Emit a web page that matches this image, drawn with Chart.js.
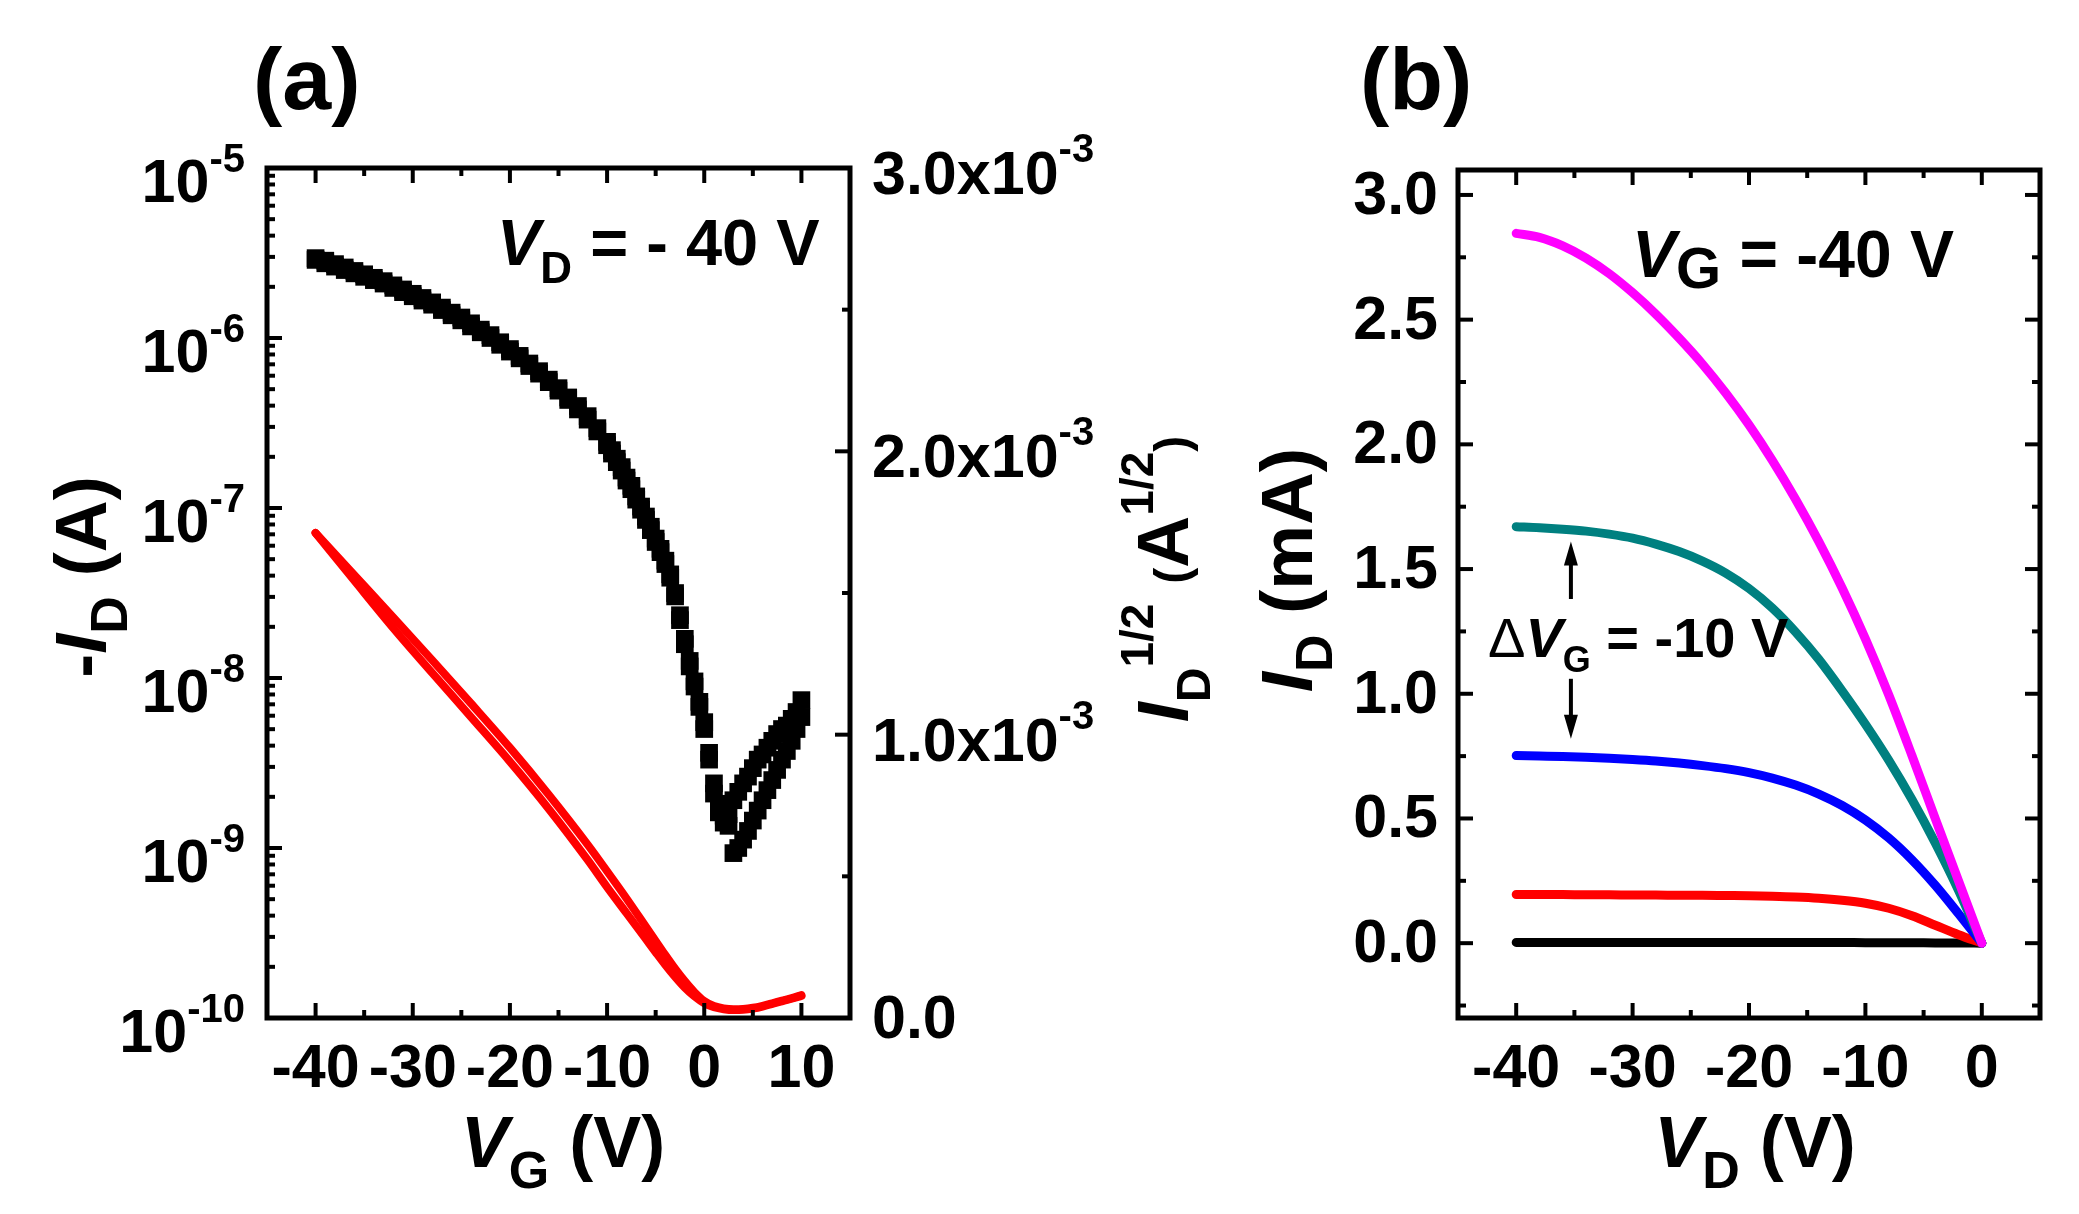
<!DOCTYPE html>
<html>
<head>
<meta charset="utf-8">
<title>Transfer and output curves</title>
<script src="https://cdn.jsdelivr.net/npm/chart.js@4.4.0/dist/chart.umd.min.js"></script>
<style>
  body { margin: 0; background: #fff; }
  canvas { position: absolute; left: 0; top: 0; width: 2079px; height: 1214px; }
</style>
</head>
<body>
<canvas id="chartA" width="2079" height="1214"></canvas>
<canvas id="chartB" width="2079" height="1214"></canvas>
<script>
// ---- (a) transfer curve at V_D = -40 V ----
const vgA = [-40,-39,-38,-37,-36,-35,-34,-33,-32,-31,-30,-29,-28,-27,-26,-25,-24,-23,-22,-21,
  -20,-19,-18,-17,-16,-15,-14,-13,-12,-11,
  -10,-9.5,-9,-8.5,-8,-7.5,-7,-6.5,-6,-5.5,-5,-4.5,-4,-3.5,-3,-2.5,-2,-1.5,-1,-0.5,
  0,0.5,1,1.5,2,2.5,3,3.5,4,4.5,5,5.5,6,6.5,7,7.5,8,8.5,9,9.5,10];

// -I_D (A), sweep towards +10 V
const idUp = [2.88e-6,2.75e-6,2.63e-6,2.51e-6,2.40e-6,2.29e-6,2.19e-6,2.09e-6,1.97e-6,1.86e-6,
  1.76e-6,1.66e-6,1.57e-6,1.46e-6,1.36e-6,1.27e-6,1.17e-6,1.08e-6,1.00e-6,9.12e-7,
  8.32e-7,7.59e-7,6.84e-7,6.17e-7,5.50e-7,4.90e-7,4.32e-7,3.80e-7,3.31e-7,2.82e-7,
  2.34e-7,2.09e-7,1.86e-7,1.66e-7,1.45e-7,1.29e-7,1.12e-7,9.77e-8,8.51e-8,7.41e-8,
  6.31e-8,5.50e-8,4.68e-8,3.89e-8,3.02e-8,2.19e-8,1.58e-8,1.17e-8,8.91e-9,6.76e-9,
  5.01e-9,3.31e-9,2.09e-9,1.62e-9,1.41e-9,1.58e-9,1.91e-9,2.14e-9,2.40e-9,2.63e-9,
  2.95e-9,3.31e-9,3.55e-9,3.89e-9,4.27e-9,4.68e-9,5.01e-9,5.25e-9,5.75e-9,6.31e-9,
  7.41e-9];

// -I_D (A), sweep back towards -40 V (listed in the same V order)
const idDown = [2.95e-6,2.85e-6,2.72e-6,2.60e-6,2.48e-6,2.37e-6,2.26e-6,2.16e-6,2.04e-6,1.93e-6,
  1.82e-6,1.72e-6,1.62e-6,1.51e-6,1.41e-6,1.32e-6,1.22e-6,1.12e-6,1.04e-6,9.44e-7,
  8.61e-7,7.85e-7,7.08e-7,6.38e-7,5.69e-7,5.07e-7,4.47e-7,3.98e-7,3.47e-7,2.95e-7,
  2.45e-7,2.19e-7,1.95e-7,1.74e-7,1.51e-7,1.35e-7,1.17e-7,1.02e-7,8.91e-8,7.76e-8,
  6.61e-8,5.75e-8,4.90e-8,4.07e-8,3.16e-8,2.34e-8,1.70e-8,1.26e-8,9.55e-9,7.24e-9,
  5.50e-9,3.63e-9,2.40e-9,1.82e-9,1.55e-9,1.35e-9,9.33e-10,1.00e-9,1.12e-9,1.26e-9,
  1.45e-9,1.66e-9,1.91e-9,2.19e-9,2.51e-9,2.88e-9,3.31e-9,3.72e-9,4.27e-9,5.01e-9,
  5.89e-9];

// I_D^1/2 (A^1/2), right axis
const vgSqrt = [-40,-36,-32,-28,-24,-20,-16,-12,-10,-8,-6,-5,-4,-3,-2,-1,0,1,2,3,4,5,6,7,8,9,10];
const sqrtUp = [1.712e-3,1.563e-3,1.414e-3,1.263e-3,1.110e-3,0.954e-3,0.788e-3,0.612e-3,0.518e-3,
  0.422e-3,0.322e-3,0.272e-3,0.222e-3,0.174e-3,0.130e-3,0.091e-3,0.060e-3,0.042e-3,0.034e-3,
  0.031e-3,0.032e-3,0.036e-3,0.043e-3,0.052e-3,0.061e-3,0.070e-3,0.081e-3];
const sqrtDown = [1.712e-3,1.543e-3,1.376e-3,1.218e-3,1.062e-3,0.905e-3,0.738e-3,0.558e-3,0.462e-3,
  0.370e-3,0.278e-3,0.232e-3,0.187e-3,0.145e-3,0.107e-3,0.076e-3,0.052e-3,0.038e-3,0.031e-3,
  0.028e-3,0.029e-3,0.033e-3,0.040e-3,0.050e-3,0.059e-3,0.068e-3,0.078e-3];

const xTicksA = [-40,-30,-20,-10,0,10];
const xMinorA = [-35,-25,-15,-5,5];
const logExpA = [-5,-6,-7,-8,-9,-10];
const rightTicksA = [0,1e-3,2e-3,3e-3];
const rightMantA = ['0.0','1.0','2.0','3.0'];
const rightMinorA = [0.5e-3,1.5e-3,2.5e-3];

// ---- (b) output curves, I_D in mA ----
const vdB = [-40,-38,-36,-34,-32,-30,-28,-26,-24,-22,-20,-18,-16,-14,-12,-10,-8,-6,-4,-2,0];
const idVg40 = [2.846,2.830,2.796,2.747,2.684,2.608,2.522,2.426,2.322,2.206,2.078,1.936,1.780,1.610,1.424,1.220,0.996,0.752,0.500,0.250,0];
const idVg30 = [1.670,1.666,1.660,1.652,1.640,1.624,1.600,1.570,1.532,1.484,1.422,1.344,1.248,1.138,1.012,0.878,0.734,0.576,0.402,0.212,0];
const idVg20 = [0.752,0.750,0.748,0.745,0.741,0.736,0.730,0.722,0.712,0.700,0.684,0.662,0.634,0.598,0.552,0.494,0.422,0.334,0.232,0.118,0];
const idVg10 = [0.195,0.195,0.195,0.194,0.194,0.193,0.193,0.192,0.192,0.191,0.190,0.188,0.185,0.180,0.172,0.160,0.140,0.110,0.072,0.034,0];
const idVg0 = [0.003,0.003,0.003,0.003,0.003,0.003,0.003,0.003,0.003,0.003,0.003,0.003,0.003,0.003,0.003,0.002,0.002,0.002,0.001,0.001,0];

const xTicksB = [-40,-30,-20,-10,0];
const xMinorB = [-35,-25,-15,-5];
const yTicksB = [0,0.5,1.0,1.5,2.0,2.5,3.0];
const yMinorB = [-0.25,0.25,0.75,1.25,1.75,2.25,2.75];

const FAM = '"Liberation Sans", Arial, sans-serif';
const f = (size, style) => (style || 'bold') + ' ' + size + 'px ' + FAM;
const MAJ = 15, MIN = 8;

function line(ctx, x1, y1, x2, y2) {
  ctx.beginPath(); ctx.moveTo(x1, y1); ctx.lineTo(x2, y2); ctx.stroke();
}

// parts: [text, font, baseline shift]
function rich(ctx, parts, x, y, align) {
  let w = 0;
  for (const p of parts) { ctx.font = p[1]; w += ctx.measureText(p[0]).width; }
  let cx = align === 'center' ? x - w / 2 : align === 'right' ? x - w : x;
  ctx.textAlign = 'left';
  ctx.textBaseline = 'alphabetic';
  for (const p of parts) {
    ctx.font = p[1];
    ctx.fillText(p[0], cx, y + (p[2] || 0));
    cx += ctx.measureText(p[0]).width;
  }
}

function vtitle(ctx, parts, x, y) {
  ctx.save();
  ctx.translate(x, y);
  ctx.rotate(-Math.PI / 2);
  rich(ctx, parts, 0, 0, 'center');
  ctx.restore();
}

function arrow(ctx, x, y1, y2) {
  // shaft from y1 to tip at y2
  const dir = y2 < y1 ? 1 : -1;
  ctx.lineWidth = 4;
  line(ctx, x, y1, x, y2 + dir * 20);
  ctx.beginPath();
  ctx.moveTo(x, y2);
  ctx.lineTo(x - 7, y2 + dir * 24);
  ctx.lineTo(x + 7, y2 + dir * 24);
  ctx.closePath();
  ctx.fill();
}

const frameA = {
  id: 'frameA',
  afterDraw(chart) {
    const { ctx, chartArea: ca, scales } = chart;
    const sx = scales.x, sy = scales.y, sr = scales.y1;
    ctx.save();
    ctx.strokeStyle = '#000';
    ctx.fillStyle = '#000';
    ctx.lineWidth = 4;
    xTicksA.forEach(v => {
      const p = sx.getPixelForValue(v);
      line(ctx, p, ca.bottom, p, ca.bottom - MAJ);
      line(ctx, p, ca.top, p, ca.top + MAJ);
    });
    xMinorA.forEach(v => {
      const p = sx.getPixelForValue(v);
      line(ctx, p, ca.bottom, p, ca.bottom - MIN);
      line(ctx, p, ca.top, p, ca.top + MIN);
    });
    logExpA.forEach(e => {
      const p = sy.getPixelForValue(Math.pow(10, e));
      line(ctx, ca.left, p, ca.left + MAJ, p);
    });
    for (let e = -10; e < -5; e++) {
      for (let m = 2; m < 10; m++) {
        const p = sy.getPixelForValue(m * Math.pow(10, e));
        line(ctx, ca.left, p, ca.left + MIN, p);
      }
    }
    rightTicksA.forEach(v => {
      const p = sr.getPixelForValue(v);
      line(ctx, ca.right, p, ca.right - MAJ, p);
    });
    rightMinorA.forEach(v => {
      const p = sr.getPixelForValue(v);
      line(ctx, ca.right, p, ca.right - MIN, p);
    });
    ctx.lineWidth = 5;
    ctx.strokeRect(ca.left, ca.top, ca.width, ca.height);

    // tick labels
    xTicksA.forEach(v => {
      rich(ctx, [[String(v), f(61)]], sx.getPixelForValue(v), ca.bottom + 69, 'center');
    });
    logExpA.forEach(e => {
      const p = sy.getPixelForValue(Math.pow(10, e));
      rich(ctx, [['10', f(61)], [String(e), f(40), -30]], ca.left - 22, p + 34, 'right');
    });
    rightTicksA.forEach((v, i) => {
      const p = sr.getPixelForValue(v);
      if (v === 0) rich(ctx, [[rightMantA[i], f(61)]], ca.right + 22, p + 20, 'left');
      else rich(ctx, [[rightMantA[i] + 'x10', f(61)], ['-3', f(40), -32]], ca.right + 22, p + 26, 'left');
    });

    // axis titles
    rich(ctx, [['V', f(72, 'italic bold')], ['G', f(52), 21], [' (V)', f(72)]], 563, ca.bottom + 149, 'center');
    vtitle(ctx, [['-', f(72)], ['I', f(72, 'italic bold')], ['D', f(52), 21], [' (A)', f(72)]], 106, 577);
    vtitle(ctx, [['I', f(72, 'italic bold')], ['D', f(48), 22], ['1/2', f(46), -35], [' ', f(72)],
      ['(', f(48)], ['A', f(72)], ['1/2', f(46), -35], [')', f(48)]], 1188, 579);

    // annotation and panel label
    rich(ctx, [['V', f(65, 'italic bold')], ['D', f(44), 18], [' = - 40 V', f(65)]], 497, 265, 'left');
    rich(ctx, [['(a)', f(88)]], 253, 109, 'left');
    ctx.restore();
  }
};

const frameB = {
  id: 'frameB',
  afterDraw(chart) {
    const { ctx, chartArea: ca, scales } = chart;
    const sx = scales.x, sy = scales.y;
    ctx.save();
    ctx.strokeStyle = '#000';
    ctx.fillStyle = '#000';
    ctx.lineWidth = 4;
    xTicksB.forEach(v => {
      const p = sx.getPixelForValue(v);
      line(ctx, p, ca.bottom, p, ca.bottom - MAJ);
      line(ctx, p, ca.top, p, ca.top + MAJ);
    });
    xMinorB.forEach(v => {
      const p = sx.getPixelForValue(v);
      line(ctx, p, ca.bottom, p, ca.bottom - MIN);
      line(ctx, p, ca.top, p, ca.top + MIN);
    });
    yTicksB.forEach(v => {
      const p = sy.getPixelForValue(v);
      line(ctx, ca.left, p, ca.left + MAJ, p);
      line(ctx, ca.right, p, ca.right - MAJ, p);
    });
    yMinorB.forEach(v => {
      const p = sy.getPixelForValue(v);
      line(ctx, ca.left, p, ca.left + MIN, p);
      line(ctx, ca.right, p, ca.right - MIN, p);
    });
    ctx.lineWidth = 5;
    ctx.strokeRect(ca.left, ca.top, ca.width, ca.height);

    xTicksB.forEach(v => {
      rich(ctx, [[String(v), f(61)]], sx.getPixelForValue(v), ca.bottom + 69, 'center');
    });
    yTicksB.forEach(v => {
      rich(ctx, [[v.toFixed(1), f(61)]], ca.left - 20, sy.getPixelForValue(v) + 19, 'right');
    });

    rich(ctx, [['V', f(72, 'italic bold')], ['D', f(52), 21], [' (V)', f(72)]], 1755, ca.bottom + 149, 'center');
    vtitle(ctx, [['I', f(73, 'italic bold')], ['D', f(52), 20], [' (mA)', f(73)]], 1312, 570);

    rich(ctx, [['V', f(66, 'italic bold')], ['G', f(58), 11], [' = -40 V', f(66)]], 1632, 277, 'left');
    rich(ctx, [['\u0394', f(56, 'normal')], ['V', f(56, 'italic bold')], ['G', f(36), 15], [' = -10 V', f(56)]], 1488, 657, 'left');

    // arrows marking the gate-voltage step
    const ax = sx.getPixelForValue(-35.3);
    arrow(ctx, ax, sy.getPixelForValue(1.38), sy.getPixelForValue(1.61));
    arrow(ctx, ax, sy.getPixelForValue(1.06), sy.getPixelForValue(0.82));

    rich(ctx, [['(b)', f(88)]], 1360, 109, 'left');
    ctx.restore();
  }
};

function pts(xs, ys) { return xs.map((x, i) => ({ x: x, y: ys[i] })); }

function curve(label, xs, ys, color, width, axis) {
  return {
    label: label, data: pts(xs, ys), showLine: true, borderColor: color, backgroundColor: color,
    borderWidth: width, pointRadius: 0, cubicInterpolationMode: 'monotone',
    borderCapStyle: 'round', borderJoinStyle: 'round', yAxisID: axis || 'y'
  };
}

const baseOptions = (pad) => ({
  responsive: false,
  devicePixelRatio: 1,
  animation: false,
  events: [],
  layout: { padding: pad },
  plugins: { legend: { display: false }, tooltip: { enabled: false } }
});

function build() {
  const optsA = baseOptions({ left: 267, top: 168, right: 1229, bottom: 196 });
  optsA.scales = {
    x: { type: 'linear', min: -45, max: 15, display: false },
    y: { type: 'logarithmic', min: 1e-10, max: 1e-5, display: false },
    y1: { type: 'linear', position: 'right', min: 0, max: 3e-3, display: false }
  };
  new Chart(document.getElementById('chartA'), {
    type: 'scatter',
    data: {
      datasets: [
        { label: '-ID up', data: pts(vgA, idUp), pointStyle: 'rect', pointRadius: 12.5,
          backgroundColor: '#000', borderWidth: 0, yAxisID: 'y' },
        { label: '-ID down', data: pts(vgA, idDown), pointStyle: 'rect', pointRadius: 12.5,
          backgroundColor: '#000', borderWidth: 0, yAxisID: 'y' },
        curve('sqrt up', vgSqrt, sqrtUp, '#ff0000', 8, 'y1'),
        curve('sqrt down', vgSqrt, sqrtDown, '#ff0000', 8, 'y1')
      ]
    },
    options: optsA,
    plugins: [frameA]
  });

  const optsB = baseOptions({ left: 1458, top: 170, right: 39, bottom: 196 });
  optsB.scales = {
    x: { type: 'linear', min: -45, max: 5, display: false },
    y: { type: 'linear', min: -0.3, max: 3.1, display: false }
  };
  new Chart(document.getElementById('chartB'), {
    type: 'scatter',
    data: {
      datasets: [
        curve('VG -40 V', vdB, idVg40, '#ff00ff', 9),
        curve('VG -30 V', vdB, idVg30, '#008080', 9),
        curve('VG -20 V', vdB, idVg20, '#0000ff', 9),
        curve('VG -10 V', vdB, idVg10, '#ff0000', 9),
        curve('VG 0 V', vdB, idVg0, '#000000', 9)
      ]
    },
    options: optsB,
    plugins: [frameB]
  });
}

Promise.all([
  document.fonts.load(f(61)),
  document.fonts.load(f(72, 'italic bold')),
  document.fonts.load(f(56, 'normal'))
]).then(build, build);
</script>
</body>
</html>
